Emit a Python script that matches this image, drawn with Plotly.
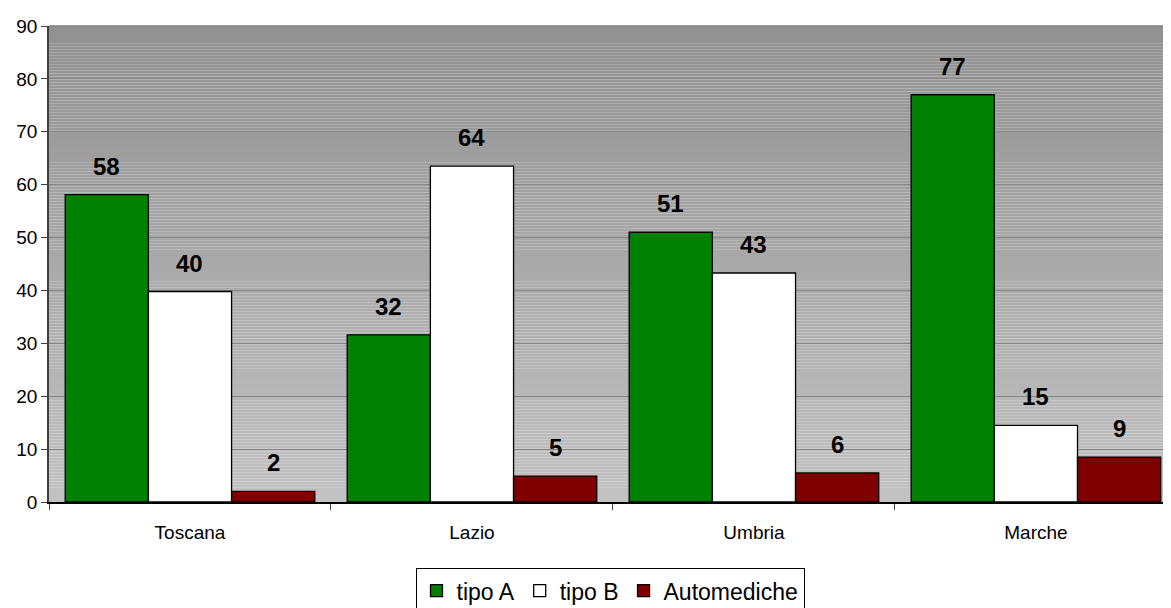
import plotly.graph_objects as go

# data
regions = ["Toscana", "Lazio", "Umbria", "Marche"]
tipo_a = [58.1, 31.6, 51.0, 77.0]
tipo_b = [39.8, 63.5, 43.3, 14.5]
automediche = [2.0, 4.9, 5.5, 8.5]

series = [
    ("tipo A", tipo_a, "#008000"),
    ("tipo B", tipo_b, "#ffffff"),
    ("Automediche", automediche, "#800000"),
]

# figure sits inside the 8px page margin
W, H = 1163, 600
ML, MR, MT, MB = 41, 0, 18, 106
BARGAP = 0.115
XRANGE = [-0.5, 3.479]   # last category runs a bit past the right edge

fig = go.Figure()
for name, vals, color in series:
    fig.add_trace(go.Bar(
        name=name,
        x=regions,
        y=vals,
        marker=dict(color=color, line=dict(color="#000000", width=1.3)),
    ))

# value labels above the bars
cat_px = (W - ML - MR) / (XRANGE[1] - XRANGE[0])
bar_px = cat_px * (1 - BARGAP) / len(series)
annotations = []
for k, (name, vals, color) in enumerate(series):
    for reg, v in zip(regions, vals):
        annotations.append(dict(
            x=reg, y=v, xref="x", yref="y",
            text="<b>%d</b>" % int(v + 0.5),
            showarrow=False, yanchor="bottom", yshift=13,
            xshift=(k - 1) * bar_px,
            font=dict(size=24, color="#000000"),
        ))

# gradient plot background built from thin strips (dark at top, light at bottom)
n = 160
shapes = []
for i in range(n):
    t = i / (n - 1)
    g = int(round(0xc2 + (0x91 - 0xc2) * t))
    shapes.append(dict(
        type="rect", xref="paper", yref="paper",
        x0=0, x1=1, y0=i / n, y1=(i + 1) / n,
        fillcolor="rgb(%d,%d,%d)" % (g, g, g),
        line=dict(width=0), layer="below",
    ))
shapes.append(dict(type="line", xref="paper", yref="paper", x0=0, x1=1, y0=1, y1=1,
                   line=dict(color="#808080", width=1.5), layer="below"))

fig.update_layout(
    width=W, height=H,
    margin=dict(l=ML, r=MR, t=MT, b=MB, autoexpand=False),
    paper_bgcolor="#ffffff",
    plot_bgcolor="rgba(0,0,0,0)",
    font=dict(family="Liberation Sans, Arial, sans-serif", color="#000000"),
    barmode="group",
    bargap=BARGAP,
    bargroupgap=0,
    shapes=shapes,
    annotations=annotations,
    showlegend=True,
    legend=dict(
        orientation="h", x=0.5, xanchor="center", y=-0.139, yanchor="top",
        font=dict(size=23), bordercolor="#000000", borderwidth=1,
        bgcolor="#ffffff", itemwidth=30, traceorder="normal",
    ),
)
fig.update_yaxes(
    range=[0, 90], dtick=10,
    showgrid=True, gridcolor="#868686", gridwidth=1,
    showline=True, linecolor="#404040", linewidth=1.5,
    ticks="outside", ticklen=6, tickcolor="#404040",
    tickfont=dict(size=19), zeroline=False, automargin=False,
)
fig.update_xaxes(
    range=XRANGE,
    showline=True, linecolor="#000000", linewidth=1.5,
    ticks="outside", ticklen=6, tickcolor="#404040",
    tickson="boundaries", tickfont=dict(size=19),
    ticklabelstandoff=12, automargin=False,
)

fig.write_html("out.html")
